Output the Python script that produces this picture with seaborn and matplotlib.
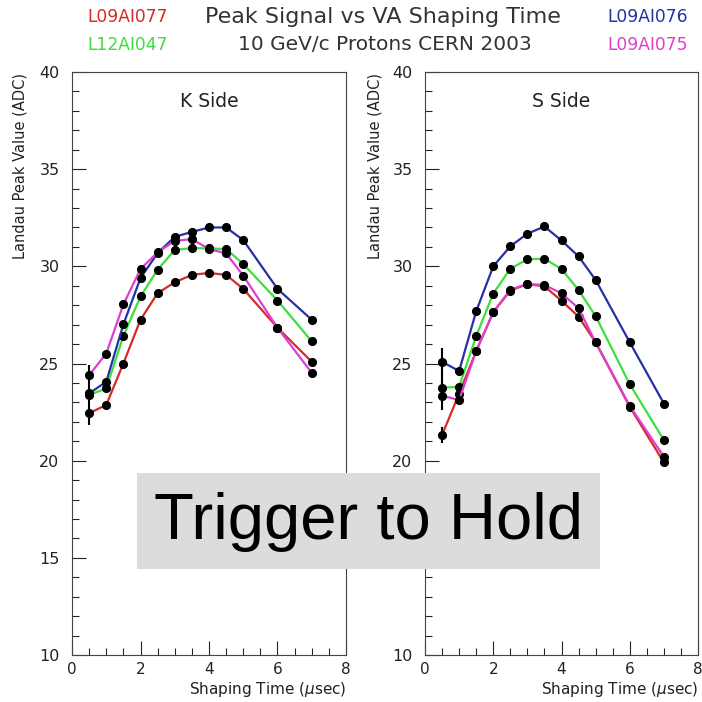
import numpy as np
import pandas as pd
import seaborn as sns
import matplotlib
matplotlib.use("Agg")
import matplotlib.pyplot as plt
from matplotlib.patches import Rectangle
from matplotlib.ticker import MultipleLocator

# ---------------- data ----------------
shaping_time = [0.5, 1.0, 1.5, 2.0, 2.5, 3.0, 3.5, 4.0, 4.5, 5.0, 6.0, 7.0]
modules = ["L09AI077", "L12AI047", "L09AI076", "L09AI075"]
module_colors = ["#d42a2a", "#3ede3e", "#2630a6", "#de3ed2"]

k_L09AI077 = [22.44, 22.87, 25.00, 27.25, 28.62, 29.18, 29.56, 29.66, 29.56, 28.84, 26.84, 25.09]
k_L12AI047 = [23.38, 23.72, 26.42, 28.45, 29.83, 30.84, 30.94, 30.92, 30.89, 30.12, 28.24, 26.14]
k_L09AI076 = [23.46, 24.06, 27.01, 29.40, 30.68, 31.52, 31.77, 32.00, 32.00, 31.35, 28.84, 27.25]
k_L09AI075 = [24.40, 25.51, 28.04, 29.86, 30.72, 31.31, 31.40, 30.89, 30.67, 29.52, 26.84, 24.52]

s_L09AI077 = [21.32, 23.45, 25.64, 27.64, 28.75, 29.09, 28.97, 28.23, 27.41, 26.09, 22.77, 19.91]
s_L12AI047 = [23.75, 23.80, 26.41, 28.60, 29.88, 30.36, 30.39, 29.86, 28.78, 27.44, 23.93, 21.06]
s_L09AI076 = [25.09, 24.61, 27.69, 30.00, 31.03, 31.68, 32.05, 31.33, 30.51, 29.30, 26.09, 22.94]
s_L09AI075 = [23.34, 23.12, 25.64, 27.64, 28.80, 29.09, 29.04, 28.61, 27.84, 26.09, 22.82, 20.20]

# error bars visible only at the first point (x = 0.5)
k_err_first = {"L12AI047": 1.52}
s_err_first = {"L09AI077": 0.43, "L12AI047": 0.72, "L09AI076": 0.72, "L09AI075": 0.72}

panels = ["K Side", "S Side"]
yticks = [10, 15, 20, 25, 30, 35, 40]
xticks = [0, 2, 4, 6, 8]

k_data = dict(zip(modules, [k_L09AI077, k_L12AI047, k_L09AI076, k_L09AI075]))
s_data = dict(zip(modules, [s_L09AI077, s_L12AI047, s_L09AI076, s_L09AI075]))

def long_frame(d):
    rows = []
    for m in modules:
        for t, v in zip(shaping_time, d[m]):
            rows.append({"time": t, "value": v, "module": m})
    return pd.DataFrame(rows)

# ---------------- figure ----------------
sns.set_style("white")
plt.rcParams["font.family"] = ["DejaVu Sans"]
W = H = 702
fig = plt.figure(figsize=(7.02, 7.02), dpi=100)

def px_rect(x0, y0, x1, y1):
    return [x0 / W, 1 - y1 / H, (x1 - x0) / W, (y1 - y0) / H]

axL = fig.add_axes(px_rect(72, 72, 346, 655))
axR = fig.add_axes(px_rect(425, 72, 698, 655))

for ax, d, errs, title in [(axL, k_data, k_err_first, panels[0]),
                           (axR, s_data, s_err_first, panels[1])]:
    df = long_frame(d)
    for m, c in zip(modules, module_colors):
        sub = df[df["module"] == m]
        sns.lineplot(data=sub, x="time", y="value", ax=ax, color=c, lw=1.6,
                     marker="o", markersize=5.8, markerfacecolor="black",
                     markeredgecolor="black", sort=False, legend=False,
                     errorbar=None, zorder=3)
    for m, e in errs.items():
        ax.errorbar([shaping_time[0]], [d[m][0]], yerr=[e], fmt="none",
                    ecolor="black", elinewidth=1.5, capsize=0, zorder=4)
    ax.set_xlim(0, 8)
    ax.set_ylim(10, 40)
    ax.set_xticks(xticks)
    ax.set_yticks(yticks)
    ax.xaxis.set_minor_locator(MultipleLocator(0.5))
    ax.yaxis.set_minor_locator(MultipleLocator(1))
    ax.tick_params(which="major", direction="in", length=10, width=0.8,
                   labelsize=11.5, colors="#222222",
                   bottom=True, left=True, top=False, right=False)
    ax.tick_params(axis="y", which="major", pad=9)
    ax.tick_params(axis="x", which="major", pad=5, labelsize=11)
    ax.tick_params(which="minor", direction="in", length=5, width=0.8,
                   bottom=True, left=True, top=False, right=False)
    for sp in ax.spines.values():
        sp.set_color("#444444")
        sp.set_linewidth(0.8)
    ax.set_xlabel("")
    ax.set_ylabel("")
    ax.text(0.5, 0.95, title, transform=ax.transAxes, ha="center",
            va="center", fontsize=13.5, color="#222222")

# axis labels (ROOT style placement)
for xpix in (20, 375):
    fig.text(xpix / W, 1 - 73 / H, "Landau Peak Value (ADC)", rotation=90,
             ha="center", va="top", fontsize=10.5, color="#222222")
for xr in (346, 698):
    fig.text(xr / W, 1 - 699 / H, "Shaping Time ($\\mu$sec)", ha="right",
             va="bottom", fontsize=11, color="#222222")

# titles
fig.text(383 / W, 1 - 17 / H, "Peak Signal vs VA Shaping Time", ha="center",
         va="center", fontsize=16, color="#333333")
fig.text(385 / W, 1 - 45 / H, "10 GeV/c Protons CERN 2003", ha="center",
         va="center", fontsize=14.5, color="#333333")

label_pos = [(128, 17), (128, 45), (648, 17), (648, 45)]
for m, c, (lx, ly) in zip(modules, module_colors, label_pos):
    fig.text(lx / W, 1 - ly / H, m, ha="center", va="center", fontsize=12.3,
             color=c)

# overlay box
fig.patches.append(Rectangle((137 / W, 1 - 569 / H), (600 - 137) / W,
                             (569 - 473) / H, transform=fig.transFigure,
                             facecolor="#dcdcdc", edgecolor="none", zorder=10))
fig.text(368 / W, 1 - 522 / H, "Trigger to Hold", ha="center", va="center",
         fontsize=47, family="Liberation Sans", color="black", zorder=11)

fig.savefig("out.png", dpi=100)
